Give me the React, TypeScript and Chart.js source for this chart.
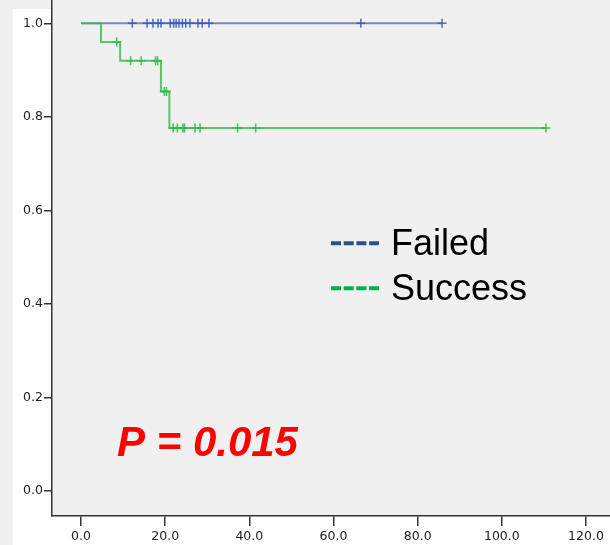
import React, { useEffect, useRef } from "react";
import { Chart, registerables } from "chart.js";

Chart.register(...registerables);

// ---- Data ----
const X_TICKS = [0, 20, 40, 60, 80, 100, 120];
const Y_TICKS = [0, 0.2, 0.4, 0.6, 0.8, 1.0];

const FAILED_LABEL = "Failed";
const SUCCESS_LABEL = "Success";
const P_TEXT = "P = 0.015";

// Failed group: no events, survival stays 1.0
const failedStepTimes = [0, 85.8];
const failedStepSurv = [1.0, 1.0];
const failedCensorTimes = [12.2, 15.7, 17.1, 18.3, 19.0, 21.2, 22.0, 22.6, 23.3, 24.1, 24.9, 25.9, 27.8, 28.8, 30.4, 66.5, 85.8];
const failedCensorSurv = [1, 1, 1, 1, 1, 1, 1, 1, 1, 1, 1, 1, 1, 1, 1, 1, 1];

// Success group: Kaplan-Meier steps
const successStepTimes = [0, 4.75, 9.3, 19.0, 21.0, 110.5];
const successStepSurv = [1.0, 0.96, 0.92, 0.854, 0.776, 0.776];
const successCensorTimes = [8.5, 11.8, 14.3, 17.7, 18.2, 19.8, 20.3, 21.9, 22.9, 24.2, 24.6, 27.1, 28.3, 37.2, 41.5, 110.5];
const successCensorSurv = [0.96, 0.92, 0.92, 0.92, 0.92, 0.854, 0.854, 0.776, 0.776, 0.776, 0.776, 0.776, 0.776, 0.776, 0.776, 0.776];

const zip = (xs: number[], ys: number[]) => xs.map((x, i) => ({ x, y: ys[i] }));

const FONT = "'Liberation Sans', Arial, sans-serif";

const backgroundPlugin = {
  id: "bgPanels",
  beforeDraw(chart: any) {
    const { ctx, width, height, chartArea } = chart;
    ctx.save();
    ctx.fillStyle = "#f0f0f0";
    ctx.fillRect(0, 0, width, height);
    ctx.fillStyle = "#ffffff";
    ctx.fillRect(13, 9, chartArea.left - 13, height - 9);
    ctx.fillRect(13, chartArea.bottom, width - 13, height - chartArea.bottom);
    ctx.restore();
  },
};

const annotationPlugin = {
  id: "legendAndP",
  afterDraw(chart: any) {
    const { ctx } = chart;
    ctx.save();
    const items = [
      { label: FAILED_LABEL, color: "#2b4f8a", y: 243.3, base: 254.5 },
      { label: SUCCESS_LABEL, color: "#00b050", y: 288.3, base: 299.5 },
    ];
    items.forEach((it) => {
      ctx.strokeStyle = it.color;
      ctx.lineWidth = 4;
      ctx.setLineDash([10, 2.7]);
      ctx.beginPath();
      ctx.moveTo(331, it.y);
      ctx.lineTo(379, it.y);
      ctx.stroke();
      ctx.setLineDash([]);
      ctx.fillStyle = "#000000";
      ctx.font = `36px ${FONT}`;
      ctx.textAlign = "left";
      ctx.textBaseline = "alphabetic";
      ctx.fillText(it.label, 391, it.base);
    });
    ctx.fillStyle = "#ff0000";
    ctx.font = `italic bold 42px ${FONT}`;
    ctx.fillText(P_TEXT, 117, 455.5);
    ctx.restore();
  },
};

const zeroPadding = (s: any) => {
  s.paddingTop = 0;
  s.paddingBottom = 0;
  s.paddingLeft = 0;
  s.paddingRight = 0;
};

export default function App() {
  const canvasRef = useRef<HTMLCanvasElement | null>(null);

  useEffect(() => {
    if (!canvasRef.current) return;
    const chart = new Chart(canvasRef.current, {
      type: "line",
      data: {
        datasets: [
          {
            label: SUCCESS_LABEL,
            data: zip(successStepTimes, successStepSurv),
            borderColor: "rgba(60,190,80,0.85)",
            borderWidth: 2,
            stepped: true,
            pointRadius: 0,
            fill: false,
            order: 1,
          },
          {
            label: SUCCESS_LABEL + " censored",
            data: zip(successCensorTimes, successCensorSurv),
            showLine: false,
            pointStyle: "cross",
            pointRadius: 4.5,
            pointBorderWidth: 1.5,
            pointBorderColor: "rgba(50,185,70,0.9)",
            order: 0,
          },
          {
            label: FAILED_LABEL,
            data: zip(failedStepTimes, failedStepSurv),
            borderColor: "rgba(85,110,200,0.8)",
            borderWidth: 2,
            stepped: true,
            pointRadius: 0,
            fill: false,
            order: 3,
          },
          {
            label: FAILED_LABEL + " censored",
            data: zip(failedCensorTimes, failedCensorSurv),
            showLine: false,
            pointStyle: "cross",
            pointRadius: 4.5,
            pointBorderWidth: 1.5,
            pointBorderColor: "rgba(60,90,190,0.9)",
            order: 2,
          },
        ],
      },
      options: {
        animation: false,
        responsive: false,
        devicePixelRatio: 1,
        layout: { padding: 0, autoPadding: false },
        plugins: {
          legend: { display: false },
          tooltip: { enabled: false },
        },
        scales: {
          x: {
            type: "linear",
            min: -6.89,
            max: 125.7,
            afterBuildTicks: (s: any) => {
              s.ticks = X_TICKS.map((v) => ({ value: v }));
            },
            afterFit: (s: any) => {
              s.height = 29;
              zeroPadding(s);
            },
            grid: {
              drawOnChartArea: false,
              drawTicks: true,
              tickLength: 10,
              color: "#333333",
              lineWidth: 1.5,
            },
            border: { display: true, color: "#333333", width: 1.5 },
            ticks: {
              autoSkip: false,
              maxRotation: 0,
              padding: 3,
              color: "#222222",
              font: { family: "'DejaVu Sans'", size: 12.5 },
              callback: (v: any) => Number(v).toFixed(1),
            },
          },
          y: {
            type: "linear",
            min: -0.0535,
            max: 1.0498,
            afterBuildTicks: (s: any) => {
              s.ticks = Y_TICKS.map((v) => ({ value: v }));
            },
            afterFit: (s: any) => {
              s.width = 52;
              zeroPadding(s);
            },
            grid: {
              drawOnChartArea: false,
              drawTicks: true,
              tickLength: 8,
              color: "#333333",
              lineWidth: 1.5,
            },
            border: { display: true, color: "#333333", width: 1.5 },
            ticks: {
              autoSkip: false,
              padding: 1,
              color: "#222222",
              font: { family: "'DejaVu Sans'", size: 12.5 },
              callback: (v: any) => Number(v).toFixed(1),
            },
          },
        },
      },
      plugins: [backgroundPlugin, annotationPlugin],
    } as any);
    return () => chart.destroy();
  }, []);

  return (
    <div style={{ position: "fixed", left: 0, top: 0, width: 610, height: 545 }}>
      <canvas ref={canvasRef} width={610} height={545} style={{ display: "block", width: 610, height: 545 }} />
    </div>
  );
}
